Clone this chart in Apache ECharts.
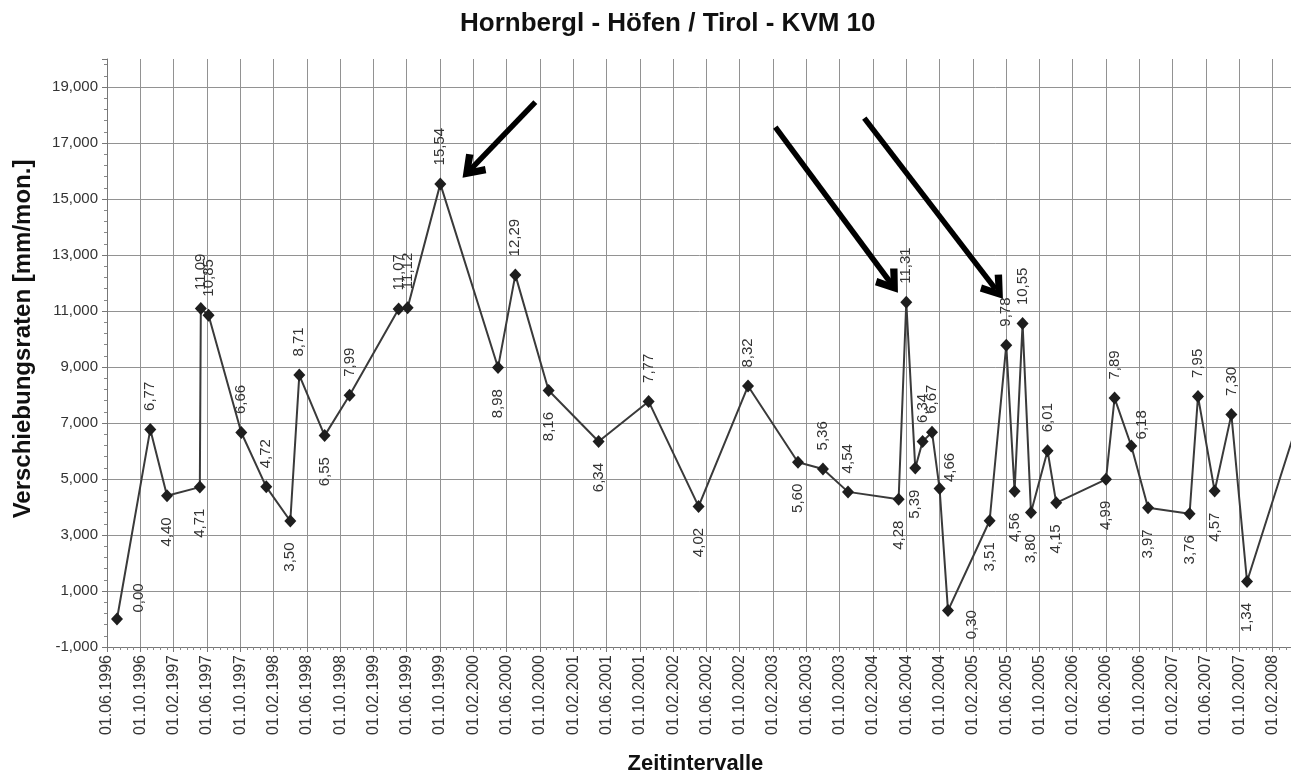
<!DOCTYPE html>
<html><head><meta charset="utf-8">
<script src="https://cdn.jsdelivr.net/npm/echarts@6/dist/echarts.min.js"></script>
<style>html,body{margin:0;padding:0;background:#fff}#c{width:1291px;height:776px}</style>
</head><body><div id="c"></div>
<script>
const titleText = 'Hornbergl - Höfen / Tirol - KVM 10';
const xAxisTitle = 'Zeitintervalle';
const yAxisTitle = 'Verschiebungsraten [mm/mon.]';

// measurement times, in months after 01.06.1996
const months = [1.20, 5.20, 7.21, 11.15, 11.27, 12.20, 16.13, 19.13, 22.02, 23.10,
  26.14, 29.14, 35.03, 36.11, 40.04, 46.97, 49.05, 53.05, 59.05, 65.06,
  71.06, 77.00, 83.00, 86.00, 89.01, 95.09, 96.01, 97.09, 97.97, 99.10,
  100.01, 101.02, 106.02, 108.02, 109.02, 109.98, 110.99, 112.98, 114.02, 120.00,
  121.03, 123.04, 125.05, 130.04, 131.05, 133.05, 135.06, 136.94, 143.3];
// displacement rates [mm/mon.]
const rates = [0.00, 6.77, 4.40, 4.71, 11.09, 10.85, 6.66, 4.72, 3.50, 8.71,
  6.55, 7.99, 11.07, 11.12, 15.54, 8.98, 12.29, 8.16, 6.34, 7.77,
  4.02, 8.32, 5.60, 5.36, 4.54, 4.28, 11.31, 5.39, 6.34, 6.67,
  4.66, 0.30, 3.51, 9.78, 4.56, 10.55, 3.80, 6.01, 4.15, 4.99,
  7.89, 6.18, 3.97, 3.76, 7.95, 4.57, 7.30, 1.34, 7.27];
// side of each value label: t = above, b = below, r / rn = right (raised), rl = right (lowered)
const labelSide = ['r','t','b','b','t','t','t','t','b','t',
  'b','t','t','t','t','b','t','b','b','t',
  'b','t','b','t','t','b','t','b','t','t',
  'rn','rl','b','t','b','t','b','t','b','b',
  't','rn','b','b','t','b','t','b','t'];

// annotation arrows (months, rate)
const arrowStarts = [[51.45, 18.46], [80.28, 17.57], [90.97, 17.89]];
const arrowEnds = [[43.71, 16.07], [94.15, 12.00], [106.74, 11.78]];

const xMin = 0, xMax = 144, xStep = 4;
const yMin = -1, yMax = 20, yStep = 2;

const FONT = '"Liberation Sans", Arial, sans-serif';
const pad = n => (n < 10 ? '0' : '') + n;
const dateLabel = v => {
  const t = 5 + Math.round(v);
  return '01.' + pad(t % 12 + 1) + '.' + (1996 + Math.floor(t / 12));
};
const dec = (v, d) => v.toFixed(d).replace('.', ',');

const sideCfg = {
  t: { position: 'top', distance: 12, align: 'left', verticalAlign: 'middle' },
  b: { position: 'bottom', distance: 15, align: 'right', verticalAlign: 'middle' },
  r: { position: [20, 0], align: 'left', verticalAlign: 'top' },
  rn: { position: [9, 0], align: 'left', verticalAlign: 'top' },
  rl: { position: [22, 6], align: 'right', verticalAlign: 'top' }
};

const chart = echarts.init(document.getElementById('c'), null, { renderer: 'canvas' });
chart.setOption({
  animation: false,
  backgroundColor: '#fff',
  title: {
    text: titleText, left: 455, top: 6,
    textStyle: { fontFamily: FONT, fontSize: 26, fontWeight: 'bold', color: '#111' }
  },
  grid: { left: 107, width: 1198.8, top: 59, height: 588, containLabel: false, outerBoundsMode: 'none' },
  xAxis: {
    type: 'value', min: xMin, max: xMax, interval: xStep,
    name: xAxisTitle, nameLocation: 'middle', nameGap: 106,
    nameTextStyle: { fontFamily: FONT, fontSize: 22, fontWeight: 'bold', color: '#111', padding: [0, 22, 0, 0] },
    axisLine: { show: true, onZero: false, lineStyle: { color: '#777', width: 1 } },
    axisTick: { show: true, length: 5, lineStyle: { color: '#777' } },
    minorTick: { show: true, splitNumber: 5, length: 3, lineStyle: { color: '#888' } },
    splitLine: { show: true, lineStyle: { color: '#929292', width: 1 } },
    axisLabel: { rotate: 90, margin: 8, fontFamily: FONT, fontSize: 16, color: '#333', formatter: dateLabel }
  },
  yAxis: {
    type: 'value', min: yMin, max: yMax, interval: yStep,
    name: yAxisTitle, nameLocation: 'middle', nameGap: 72, nameRotate: 90,
    nameTextStyle: { fontFamily: FONT, fontSize: 24, fontWeight: 'bold', color: '#111', padding: [0, 0, 0, 28] },
    axisLine: { show: true, lineStyle: { color: '#777', width: 1 } },
    axisTick: { show: true, length: 5, lineStyle: { color: '#777' } },
    minorTick: { show: true, splitNumber: 5, length: 3, lineStyle: { color: '#888' } },
    splitLine: { show: true, showMaxLine: false, lineStyle: { color: '#929292', width: 1 } },
    axisLabel: { showMaxLabel: false, margin: 9, fontFamily: FONT, fontSize: 15, color: '#333',
      formatter: v => (v === yMax ? '' : dec(v, 3)) }
  },
  series: [{
    type: 'line',
    clip: true,
    symbol: 'diamond',
    symbolSize: [12, 13],
    lineStyle: { color: '#3a3a3a', width: 2 },
    itemStyle: { color: '#1e1e1e' },
    label: {
      show: true, rotate: 90, fontFamily: FONT, fontSize: 15, color: '#333',
      formatter: p => dec(p.value[1], 2)
    },
    emphasis: { disabled: true },
    data: months.map((m, i) => ({ value: [m, rates[i]], label: sideCfg[labelSide[i]] })),
    markLine: {
      silent: true,
      symbol: ['none', 'path://M0,18 L14,0 L28,18 L22,22 L14,11 L6,22 Z'],
      symbolSize: [28, 24],
      label: { show: false },
      emphasis: { disabled: true },
      lineStyle: { color: '#000', width: 5.5, type: 'solid' },
      data: arrowStarts.map((s, i) => [{ coord: s }, { coord: arrowEnds[i] }])
    }
  }]
});
</script>
</body></html>
